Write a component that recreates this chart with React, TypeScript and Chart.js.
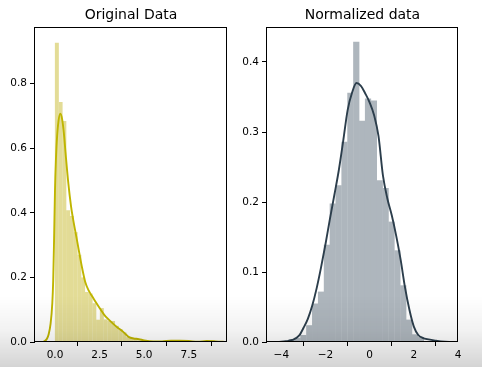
import React, { useEffect, useRef } from "react";
import { Chart, registerables } from "chart.js";

Chart.register(...registerables);

// ---------- Left panel: Original Data ----------
const origTitle = "Original Data";
const origBinStart = 0;
const origBinWidth = 0.21;
const origHist = [
  0.926, 0.743, 0.684, 0.408, 0.39, 0.34, 0.27, 0.2, 0.155, 0.15,
  0.12, 0.069, 0.105, 0.07, 0.065, 0.065, 0.05, 0.04, 0.03, 0.015,
  0.013, 0.012, 0.008, 0.005, 0.004, 0.003, 0.002, 0.001, 0.0, 0.002,
  0.004, 0.004, 0.005, 0.003, 0.004, 0.002, 0.0, 0.001, 0.0, 0.0,
  0.002, 0.003, 0.001,
];
const origKdeX = [
  -0.7, -0.6, -0.45, -0.35, -0.25, -0.15, -0.1, -0.05, 0.0, 0.05,
  0.1, 0.2, 0.3, 0.4, 0.5, 0.6, 0.75, 0.9, 1.0, 1.25,
  1.5, 1.7, 1.9, 2.1, 2.3, 2.5, 2.75, 3.0, 3.25, 3.5,
  3.75, 3.95, 4.15, 4.4, 4.7, 5.0, 5.5, 6.0, 6.5, 7.0,
  7.5, 8.0, 8.5, 9.0, 9.6,
];
const origKdeY = [
  0.0, 0.002, 0.01, 0.025, 0.055, 0.12, 0.19, 0.32, 0.47, 0.56,
  0.62, 0.685, 0.707, 0.69, 0.645, 0.58, 0.49, 0.42, 0.385, 0.31,
  0.235, 0.185, 0.158, 0.14, 0.122, 0.105, 0.085, 0.07, 0.057, 0.045,
  0.035, 0.025, 0.015, 0.011, 0.009, 0.005, 0.002, 0.002, 0.004, 0.004,
  0.003, 0.001, 0.003, 0.002, 0.0,
];
const origXTicks = [0, 2.5, 5, 7.5];
const origYTicks = [0, 0.2, 0.4, 0.6, 0.8];

// ---------- Right panel: Normalized data ----------
const normTitle = "Normalized data";
const normBinStart = -3.666;
const normBinWidth = 0.266;
const normHist = [
  0.004, 0.006, 0.01, 0.024, 0.055, 0.072, 0.139, 0.198, 0.224, 0.286,
  0.356, 0.429, 0.316, 0.348, 0.345, 0.231, 0.22, 0.172, 0.131, 0.081,
  0.032, 0.011, 0.007,
];
const normKdeX = [
  -4.1, -3.8, -3.5, -3.2, -3.0, -2.8, -2.6, -2.4, -2.2, -2.0,
  -1.8, -1.6, -1.4, -1.2, -1.0, -0.8, -0.6, -0.4, -0.2, 0.0,
  0.2, 0.4, 0.6, 0.8, 1.0, 1.2, 1.4, 1.6, 1.8, 2.0,
  2.2, 2.4, 2.6, 3.0, 3.4, 3.7,
];
const normKdeY = [
  0.0, 0.001, 0.003, 0.009, 0.02, 0.033, 0.052, 0.077, 0.107, 0.14,
  0.176, 0.21, 0.245, 0.287, 0.331, 0.356, 0.37, 0.366, 0.355, 0.342,
  0.324, 0.294, 0.238, 0.205, 0.181, 0.152, 0.118, 0.078, 0.046, 0.022,
  0.01, 0.006, 0.004, 0.002, 0.0005, 0.0,
];
const normXTicks = [-4, -2, 0, 2, 4];
const normYTicks = [0, 0.1, 0.2, 0.3, 0.4];

const W = 482;
const H = 367;
const FONT = "'DejaVu Sans', 'Liberation Sans', sans-serif";

const framePlugin = {
  id: "frame",
  afterDraw(chart: any) {
    const { ctx, chartArea: a } = chart;
    ctx.save();
    ctx.strokeStyle = "#000";
    ctx.lineWidth = 1;
    ctx.strokeRect(
      Math.round(a.left) - 0.5,
      Math.round(a.top) + 0.5,
      Math.round(a.right - a.left),
      Math.round(a.bottom - a.top) - 1
    );
    ctx.restore();
  },
};

// Axes title centred over the plot area, like matplotlib's ax.set_title
const panelTitlePlugin = {
  id: "panelTitle",
  afterDraw(chart: any, _args: any, opts: any) {
    const { ctx, chartArea: a } = chart;
    ctx.save();
    ctx.fillStyle = "#000";
    ctx.font = `14px ${FONT}`;
    ctx.textAlign = "center";
    ctx.textBaseline = "alphabetic";
    ctx.fillText(opts.text || "", (a.left + a.right) / 2, a.top - 8.5);
    ctx.restore();
  },
};

type PanelProps = {
  title: string;
  binStart: number;
  binWidth: number;
  hist: number[];
  kdeX: number[];
  kdeY: number[];
  xMin: number;
  xMax: number;
  yMax: number;
  xTicks: number[];
  yTicks: number[];
  xFmt: (v: number) => string;
  yFmt: (v: number) => string;
  barColor: string;
  lineColor: string;
  padLeft: number;
  padRight: number;
};

function Panel(p: PanelProps) {
  const ref = useRef<HTMLCanvasElement | null>(null);
  useEffect(() => {
    if (!ref.current) return;
    const bars = p.hist.map((h, i) => ({
      x: p.binStart + p.binWidth * (i + 0.5),
      y: h,
    }));
    const kde = p.kdeX.map((x, i) => ({ x, y: p.kdeY[i] }));
    const chart = new Chart(ref.current, {
      type: "bar",
      data: {
        datasets: [
          {
            type: "line",
            data: kde,
            borderColor: p.lineColor,
            borderWidth: 1.9,
            pointRadius: 0,
            fill: false,
            cubicInterpolationMode: "monotone",
            order: 0,
          } as any,
          {
            type: "bar",
            data: bars,
            backgroundColor: p.barColor,
            borderWidth: 0,
            barPercentage: 1.06,
            categoryPercentage: 1,
            order: 1,
          } as any,
        ],
      },
      options: {
        responsive: false,
        animation: false,
        devicePixelRatio: 1,
        layout: {
          padding: { left: p.padLeft, right: p.padRight, top: 27, bottom: 0 },
        },
        plugins: {
          legend: { display: false },
          tooltip: { enabled: false },
          title: { display: false },
          panelTitle: { text: p.title },
        },
        scales: {
          x: {
            type: "linear",
            min: p.xMin,
            max: p.xMax,
            offset: false,
            afterFit: (s: any) => {
              s.height = 25;
            },
            afterBuildTicks: (s: any) => {
              s.ticks = p.xTicks.map((v) => ({ value: v }));
            },
            ticks: {
              autoSkip: false,
              maxRotation: 0,
              padding: 3,
              color: "#000",
              font: { family: FONT, size: 10.5 },
              callback: (v: any) => p.xFmt(Number(v)),
            },
            grid: {
              display: true,
              drawOnChartArea: false,
              drawTicks: true,
              tickLength: 4,
              color: "#000",
              lineWidth: 1,
            },
            border: { display: false },
          },
          y: {
            type: "linear",
            min: 0,
            max: p.yMax,
            afterFit: (s: any) => {
              s.width = 30;
            },
            afterBuildTicks: (s: any) => {
              s.ticks = p.yTicks.map((v) => ({ value: v }));
            },
            ticks: {
              autoSkip: false,
              padding: 3,
              color: "#000",
              font: { family: FONT, size: 10.5 },
              callback: (v: any) => p.yFmt(Number(v)),
            },
            grid: {
              display: true,
              drawOnChartArea: false,
              drawTicks: true,
              tickLength: 5,
              color: "#000",
              lineWidth: 1,
            },
            border: { display: false },
          },
        },
      } as any,
      plugins: [framePlugin, panelTitlePlugin],
    });
    return () => chart.destroy();
  }, []);
  return (
    <canvas
      ref={ref}
      width={W}
      height={H}
      style={{ position: "absolute", left: 0, top: 0, width: W, height: H }}
    />
  );
}

const fmt1 = (v: number) => v.toFixed(1);
const fmtInt = (v: number) =>
  v < 0 ? "\u2212" + Math.abs(v).toFixed(0) : v.toFixed(0);

export default function App() {
  return (
    <div
      style={{
        position: "fixed",
        left: 0,
        top: 0,
        width: W,
        height: H,
        background: "#fff",
        overflow: "hidden",
      }}
    >
      <Panel
        title={origTitle}
        binStart={origBinStart}
        binWidth={origBinWidth}
        hist={origHist}
        kdeX={origKdeX}
        kdeY={origKdeY}
        xMin={-1.12}
        xMax={9.64}
        yMax={0.975}
        xTicks={origXTicks}
        yTicks={origYTicks}
        xFmt={fmt1}
        yFmt={fmt1}
        barColor="#e3dc96"
        lineColor="#bfb500"
        padLeft={5}
        padRight={255}
      />
      <Panel
        title={normTitle}
        binStart={normBinStart}
        binWidth={normBinWidth}
        hist={normHist}
        kdeX={normKdeX}
        kdeY={normKdeY}
        xMin={-4.65}
        xMax={4.0}
        yMax={0.45}
        xTicks={normXTicks}
        yTicks={normYTicks}
        xFmt={fmtInt}
        yFmt={fmt1}
        barColor="#aeb6bd"
        lineColor="#2c3e4c"
        padLeft={237}
        padRight={24}
      />
      <div
        style={{
          position: "absolute",
          left: 0,
          top: 0,
          width: W,
          height: H,
          pointerEvents: "none",
          background:
            "linear-gradient(to bottom, rgba(0,0,0,0) 0px, rgba(0,0,0,0) 296px, rgba(0,0,0,0.05) 330px, rgba(0,0,0,0.17) 367px)",
        }}
      />
    </div>
  );
}
